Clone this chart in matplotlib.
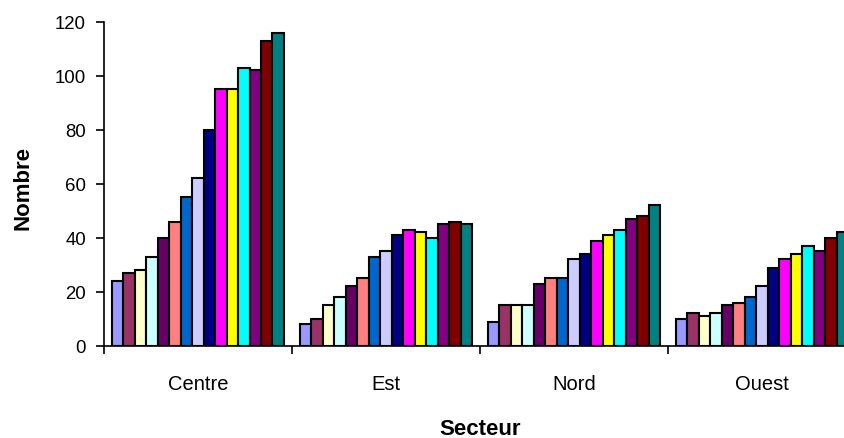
import numpy as np
import matplotlib
matplotlib.use("Agg")
import matplotlib.pyplot as plt

plt.rcParams["font.family"] = ["Liberation Sans", "DejaVu Sans"]

secteurs = ["Centre", "Est", "Nord", "Ouest"]

# one series per colour (15 series), values per secteur
centre = [24, 27, 28, 33, 40, 46, 55, 62, 80, 95, 95, 103, 102, 113, 116]
est = [8, 10, 15, 18, 22, 25, 33, 35, 41, 43, 42, 40, 45, 46, 45]
nord = [9, 15, 15, 15, 23, 25, 25, 32, 34, 39, 41, 43, 47, 48, 52]
ouest = [10, 12, 11, 12, 15, 16, 18, 22, 29, 32, 34, 37, 35, 40, 42]

colors = ["#9999FF", "#993366", "#FFFFCC", "#CCFFFF", "#660066",
          "#FF8080", "#0066CC", "#CCCCFF", "#000080", "#FF00FF",
          "#FFFF00", "#00FFFF", "#800080", "#800000", "#008080"]

values = np.array([centre, est, nord, ouest])  # shape (4, 15)
n_series = values.shape[1]

fig = plt.figure(figsize=(8.45, 4.39), dpi=100)
ax = fig.add_axes([0.123, 0.21, 0.89, 0.738])

group_w = 0.915
bar_w = group_w / n_series
x = np.arange(len(secteurs))
for i in range(n_series):
    offs = -group_w / 2 + (i + 0.5) * bar_w
    ax.bar(x + offs, values[:, i], width=bar_w, color=colors[i],
           edgecolor="black", linewidth=1.5)

ax.set_xlim(-0.5, len(secteurs) - 0.5)
ax.set_ylim(0, 120)
ax.set_yticks(range(0, 121, 20))

ax.set_xticks(x)
ax.set_xticklabels(secteurs)
ax.set_xticks(np.arange(len(secteurs) + 1) - 0.5, minor=True)
ax.tick_params(axis="x", which="major", length=0, pad=20, labelsize=14.5)
ax.tick_params(axis="x", which="minor", length=6, width=1.2, direction="out")
ax.tick_params(axis="y", length=6, width=1.2, direction="out",
               labelsize=13.4, pad=7)

for s in ["top", "right"]:
    ax.spines[s].set_visible(False)
for s in ["left", "bottom"]:
    ax.spines[s].set_linewidth(1.2)

# axis titles placed like the original chart
fig.text(480 / 845, 1 - 430 / 439, "Secteur", fontsize=16, fontweight="bold",
         ha="center", va="center")
fig.text(23 / 845, 1 - 188 / 439, "Nombre", fontsize=16, fontweight="bold",
         ha="center", va="center", rotation=90)

fig.savefig("out.png", dpi=100)
